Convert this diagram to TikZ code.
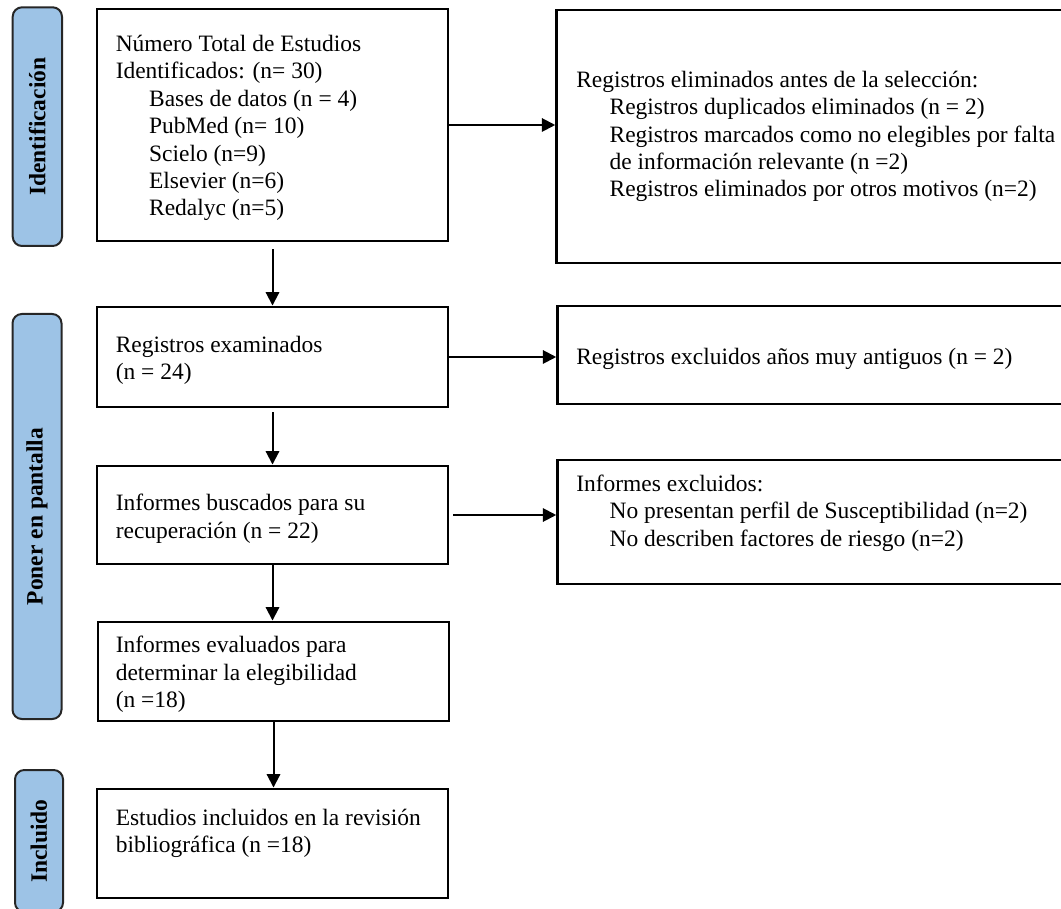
\documentclass[tikz,border=0pt]{standalone}
\usepackage{fontspec}
\setmainfont{Liberation Serif}
\usetikzlibrary{fit,arrows.meta}
\definecolor{sidefill}{HTML}{9DC3E6}
\definecolor{sideline}{HTML}{262626}
\begin{document}
\begin{tikzpicture}[x=0.75pt,y=-0.75pt,
 box/.style={draw=black, line width=2.2pt, inner sep=0pt},
 side/.style={draw=sideline, fill=sidefill, line width=1.5pt, rounded corners=7pt, inner sep=0pt},
 sidetxt/.style={rotate=90, font=\fontsize{17.6}{20.6}\selectfont\bfseries, inner sep=0pt},
 txt/.style={align=left, font=\fontsize{17.6}{20.6}\selectfont, inner sep=0pt, anchor=base west},
 arr/.style={line width=1.5pt, -{Triangle[length=10pt,width=10pt]}}]
\useasboundingbox (0,0) rectangle (1061,909);
\clip (0,0) rectangle (1061,909);
% side bars
\node[side, fit={(12.7,7.3) (62,246)}] (s1) {};
\node[sidetxt] (s1t) at (s1.center) {Identificación};
\node[side, fit={(12.5,314) (61.5,719)}] (s2) {};
\node[sidetxt] (s2t) at (s2.center) {Poner en pantalla};
\node[side, fit={(15,770) (63,912)}] (s3) {};
\node[sidetxt] (s3t) at (s3.center) {Incluido};
% boxes
\node[box, fit={(97,9) (448,241)}] (b1) {};
\node[box, fit={(556.7,10) (1080,263)}] (r1) {};
\node[box, fit={(97,307) (448,407)}] (b2) {};
\node[box, fit={(557.7,306) (1080,404)}] (r2) {};
\node[box, fit={(97,466) (448,564)}] (b3) {};
\node[box, fit={(557.7,460) (1080,584)}] (r3) {};
\node[box, fit={(98,622) (449,721)}] (b4) {};
\node[box, fit={(97,789) (448,898)}] (b5) {};
% texts (anchor = baseline of last line)
\node[txt] (b1t) at (115.5,216) {Número Total de Estudios\\Identificados: (n= 30)\\\hspace*{25pt}Bases de datos (n = 4)\\\hspace*{25pt}PubMed (n= 10)\\\hspace*{25pt}Scielo (n=9)\\\hspace*{25pt}Elsevier (n=6)\\\hspace*{25pt}Redalyc (n=5)};
\node[txt] (r1t) at (576,197) {Registros eliminados antes de la selección:\\\hspace*{25pt}Registros duplicados eliminados (n = 2)\\\hspace*{25pt}Registros marcados como no elegibles por falta\\\hspace*{25pt}de información relevante (n =2)\\\hspace*{25pt}Registros eliminados por otros motivos (n=2)};
\node[txt] (b2t) at (115.5,379.5) {Registros examinados\\(n = 24)};
\node[txt] (r2t) at (576,365) {Registros excluidos años muy antiguos (n = 2)};
\node[txt] (b3t) at (115.5,538) {Informes buscados para su\\recuperación (n = 22)};
\node[txt] (r3t) at (576,546) {Informes excluidos:\\\hspace*{25pt}No presentan perfil de Susceptibilidad (n=2)\\\hspace*{25pt}No describen factores de riesgo (n=2)};
\node[txt] (b4t) at (115.5,707.5) {Informes evaluados para\\determinar la elegibilidad\\(n =18)};
\node[txt] (b5t) at (115.5,852.5) {Estudios incluidos en la revisión\\bibliográfica (n =18)};
% arrows
\draw[arr] (b1.east) -- (b1.east -| r1.west);
\draw[arr, shorten <=5pt] (b1.south) -- (b2.north);
\draw[arr] (b2.east) -- (b2.east -| r2.west);
\draw[arr, shorten <=3pt] (b2.south) -- (b3.north);
\draw[arr, shorten <=3pt] (b3.east) -- (b3.east -| r3.west);
\draw[arr] (b3.south) -- (b3.south |- b4.north);
\draw[arr] (b4.south) -- (b4.south |- b5.north);
\end{tikzpicture}
\end{document}
